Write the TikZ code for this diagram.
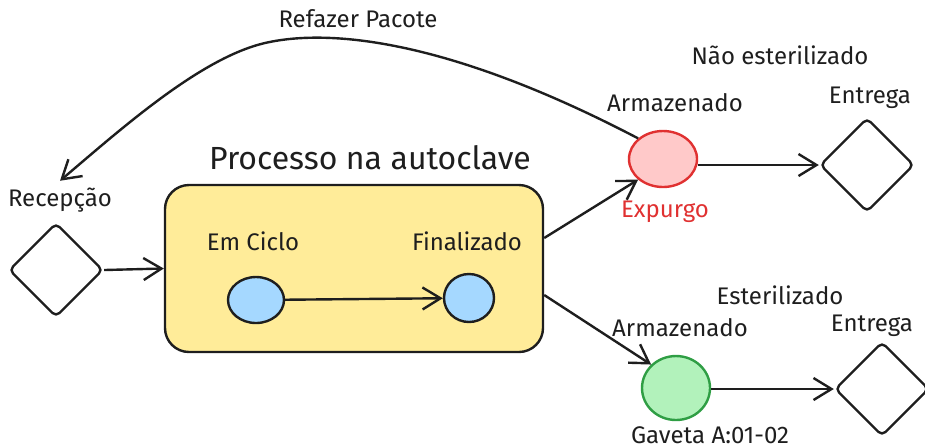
\documentclass[tikz,border=0pt]{standalone}
\usepackage{fontspec}
\setmainfont{Fira Sans}
\usetikzlibrary{shapes.geometric,positioning,arrows.meta}

\definecolor{ink}{HTML}{1E1E1E}
\definecolor{boxyellow}{HTML}{FFEC99}
\definecolor{stateblue}{HTML}{A5D8FF}
\definecolor{purgefill}{HTML}{FFC9C9}
\definecolor{purgeline}{HTML}{E03131}
\definecolor{drawerfill}{HTML}{B2F2BB}
\definecolor{drawerline}{HTML}{2F9E44}

\begin{document}
\begin{tikzpicture}[
			x=0.5pt, y=-0.5pt,
			every node/.style={font=\fontsize{12}{14}\selectfont, text=ink},
			title/.style={font=\fontsize{16}{19}\selectfont},
			gate/.style={diamond, aspect=1, draw=ink, line width=1.2pt, rounded corners=2.5pt, minimum width=47pt, minimum height=47pt, inner sep=0pt},
			flow/.style={-{Straight Barb[length=9pt, width=11pt]}, draw=ink, line width=1.2pt},
			state/.style={ellipse, draw=ink, line width=1.2pt, fill=stateblue, inner sep=0pt}
			]
			
			\useasboundingbox (0, 0) rectangle (925, 447);
			
			\node (box) at (354, 268.5) [rectangle, draw=ink, line width=1.2pt, fill=boxyellow, rounded corners=12pt, minimum width=189pt, minimum height=83.5pt] {};
			\node (boxtitle) at (370, 158) [title] {Processo na autoclave};
			
			\node (recep) at (56, 270) [gate] {};
			\node (recepLbl) at (60, 200) {Recepção};
			
			\node (ciclo) at (256, 300) [state, minimum width=28pt, minimum height=23pt] {};
			\node (fin) at (469, 298) [state, minimum width=25pt, minimum height=24pt] {};
			\node (cicloLbl) at (253, 241) {Em Ciclo};
			\node (finLbl) at (467, 241) {Finalizado};
			
			\node (purge) at (663, 159) [ellipse, draw=purgeline, line width=1.2pt, fill=purgefill, minimum width=34pt, minimum height=28pt, inner sep=0pt] {};
			\node (purgeTop) at (675, 103) {Armazenado};
			\node (purgeLbl) at (665, 212) [text=purgeline] {Expurgo};
			\node (notSter) at (780, 55) {Não esterilizado};
			
			\node (out1) at (867, 165) [gate] {};
			\node (out1Lbl) at (870, 98) {Entrega};
			
			\node (drawer) at (676, 388) [ellipse, draw=drawerline, line width=1.2pt, fill=drawerfill, minimum width=34pt, minimum height=32pt, inner sep=0pt] {};
			\node (drawerTop) at (680, 328) {Armazenado};
			\node (drawerLbl) at (710, 435) {Gaveta A:01-02};
			\node (ster) at (780, 295) {Esterilizado};
			
			\node (out2) at (882, 389) [gate] {};
			\node (out2Lbl) at (872, 326) {Entrega};
			
			\coordinate (peak) at (265, 43);
			
			\draw [flow] (recep.east) -- (box.west);
			\draw [flow] (ciclo) -- (fin);
			\draw [flow] (box.east |- 0, 238) -- (purge.south west);
			\draw [flow] (box.east |- 0, 295) -- (drawer.north west);
			\draw [flow] (out1.west -| purge.east) -- (out1.west);
			\draw [flow] (out2.west -| drawer.east) -- (out2.west);
			
			\draw [flow] (purge.north west) .. controls (450, 40) and (330, 28) .. (peak) .. controls (200, 58) and (120, 130) .. (recepLbl.north);
			\node (redo) at (358, 19) {Refazer Pacote};
			\end{tikzpicture}
\end{document}
